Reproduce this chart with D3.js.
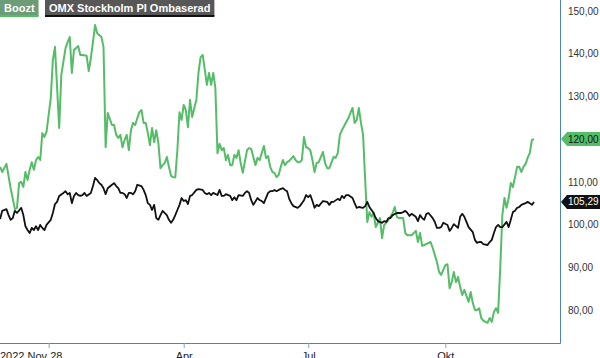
<!DOCTYPE html>
<html><head><meta charset="utf-8">
<script src="https://cdn.jsdelivr.net/npm/d3@7"></script>
<style>body{margin:0;background:#fff;overflow:hidden}</style>
</head><body>
<svg id="c" width="600" height="358"></svg>
<script>
// trading-day index since 2022-11-28 (approx.)
const greenDays = [1,2,4,6,8,9,10,11,12,13,14,15,16,17,18,19,20,21,22,23,25,26,27,29,30,32,33,34,35,36,37,38,39,40,42,43,44,45,46,47,49,50,51,52,54,55,56,57,58,59,60,61,62,63,64,65,66,67,68,69,70,71,72,73,74,75,76,77,78,79,80,81,82,83,84,85,86,87,88,89,90,91,92,94,95,96,97,99,100,101,102,103,104,105,106,107,108,109,110,111,112,113,114,115,116,118,119,120,121,122,123,124,126,127,128,129,130,131,132,133,134,135,136,137,138,140,141,142,143,144,145,146,147,148,149,150,151,152,154,155,156,157,159,160,161,162,163,165,166,168,169,170,171,172,173,174,175,176,177,178,179,180,181,182,183,184,185,187,188,189,190,191,192,193,194,195,196,198,199,200,201,202,204,205,206,208,209,210,212,213,214,215,216,217,218,219,220,221,223,224,225,226,227,228,229,230,231,232,233,234,235,236,237,238,239,240,241,242,243,244,245,246,247,248,249,250,251,252,253,254];
const greenVals = [113.5,112.3,114.2,108.5,103.6,103.9,109.7,110.0,108.8,112.3,110.4,112.8,114.6,112.8,115.1,115.8,115.1,121.4,120.5,121.7,129.6,138.5,141.6,122.6,135.0,141.3,142.7,143.9,135.5,140.9,141.3,141.8,139.7,139.7,139.5,135.9,139.0,142.7,146.7,144.8,143.9,141.6,118.1,126.1,123.3,123.3,121.0,120.3,121.0,118.1,119.8,121.0,117.4,122.1,123.8,123.3,124.9,126.3,126.8,123.8,123.8,121.4,118.6,122.6,119.3,122.1,119.1,113.2,113.9,114.4,115.8,113.5,111.4,111.1,111.0,117.4,126.3,124.5,128.0,126.8,122.8,129.2,125.2,129.2,135.5,139.2,139.7,132.7,135.5,132.7,135.5,132.0,116.7,118.9,117.4,117.9,115.1,116.3,113.9,113.9,116.3,115.6,117.4,114.4,112.1,117.4,117.9,117.7,115.8,113.9,115.6,115.1,118.4,115.6,116.0,113.5,112.3,112.1,111.1,111.6,113.5,115.1,113.9,114.6,114.9,116.0,115.1,114.6,114.6,115.1,120.5,118.1,117.9,117.4,115.1,112.3,114.4,114.6,117.0,114.4,113.2,113.2,115.8,115.6,116.7,121.0,122.1,124.0,124.9,127.3,123.8,124.5,127.3,123.8,121.0,110.4,100.6,102.9,101.8,102.7,99.4,100.4,101.5,96.8,99.9,100.4,101.1,102.7,104.1,101.8,101.5,101.5,101.5,98.0,97.5,97.5,97.5,98.5,95.9,98.0,95.0,95.2,95.7,95.9,94.5,91.2,88.9,88.2,90.5,90.7,85.1,86.5,88.9,86.5,87.7,85.4,83.5,84.7,81.9,84.2,81.6,80.0,80.0,80.4,78.1,77.5,77.2,77.0,78.1,77.2,79.5,80.4,79.3,89.8,102.2,106.2,103.9,106.2,109.7,108.8,111.1,113.5,113.5,112.3,113.5,114.2,115.6,116.7,119.8,120.0];
const blackDays = [1,2,4,5,6,7,8,9,11,12,13,14,15,16,17,18,19,20,21,22,23,25,26,27,28,29,31,32,33,34,35,36,37,38,39,40,41,42,44,45,46,47,48,49,50,51,52,54,55,56,57,58,59,60,61,62,63,64,65,66,68,69,70,71,72,73,74,75,76,77,78,80,81,82,83,84,85,86,87,88,89,90,91,92,94,95,97,98,99,100,101,102,104,105,106,107,108,110,111,112,113,114,116,117,118,119,120,121,123,124,125,126,128,129,130,131,132,133,135,136,137,138,139,140,142,143,144,145,146,147,148,149,150,151,152,154,156,157,158,159,161,162,163,164,165,166,168,169,170,171,173,174,175,176,177,178,179,180,182,183,184,185,186,187,189,190,191,192,193,194,195,196,198,199,200,201,202,203,204,206,207,208,209,210,211,213,214,215,216,218,219,220,221,222,223,225,226,227,228,229,230,232,233,234,235,236,237,238,239,241,242,243,244,245,246,247,248,250,251,252,253,254];
const blackVals = [101.3,103.2,103.6,102.2,101.1,101.5,103.2,102.7,103.9,102.2,99.6,98.7,98.0,99.2,98.7,99.6,98.7,99.9,99.2,98.7,99.9,101.1,102.7,104.8,105.3,106.7,107.4,107.8,107.1,107.4,105.0,106.7,107.4,106.9,106.7,106.9,107.4,106.7,107.4,109.0,110.9,110.4,109.7,109.3,108.5,107.1,108.5,109.3,109.7,109.0,108.5,107.4,107.4,107.1,106.2,107.4,107.4,107.1,107.8,109.3,109.0,108.1,106.9,105.0,104.6,103.4,104.6,101.5,101.1,102.2,103.2,102.2,101.1,100.4,101.1,102.2,103.4,104.6,106.2,105.5,105.7,104.8,106.7,106.9,108.1,108.3,108.1,107.4,107.1,107.4,106.9,107.4,106.9,108.1,106.7,106.7,107.1,106.7,105.7,106.4,105.7,106.9,106.7,107.4,107.8,107.4,105.7,104.6,106.2,105.7,105.5,105.0,107.4,107.8,107.8,108.1,107.8,108.1,108.5,108.1,107.8,106.0,105.0,104.3,103.9,104.3,105.0,105.7,106.9,106.4,106.9,105.5,103.9,104.6,104.3,105.5,105.3,104.6,105.3,105.3,106.0,105.7,106.7,106.2,106.9,106.9,106.2,105.0,103.9,104.1,103.9,104.3,105.3,104.1,103.4,102.7,101.5,100.8,100.4,100.8,100.6,101.5,101.5,102.2,102.7,102.7,102.7,102.9,103.2,102.7,102.0,102.5,101.8,100.8,102.2,101.5,101.1,102.5,102.7,101.5,100.6,99.2,99.2,99.4,100.4,99.9,98.5,99.2,100.1,99.2,101.8,102.5,101.8,100.6,99.4,98.2,96.4,95.7,95.9,95.9,95.4,95.2,95.9,96.4,98.0,99.4,99.9,99.4,99.4,100.6,99.4,101.1,102.9,103.2,103.9,104.1,104.6,105.0,105.3,105.0,104.6,105.29];

const seriesNames = ["Boozt", "OMX Stockholm PI Ombaserad"];
const lastValues = [120.00, 105.29];
const yTicks = [80, 90, 100, 110, 120, 130, 140, 150];
const xTickDays = [24, 88, 147, 212];
const xTickLabels = ["", "Apr", "Jul", "Okt"];
const startLabel = "2022 Nov 28";

const W = 600, H = 358;
const plotR = 560, plotB = 343;
const svg = d3.select("#c");
const font = "'Liberation Sans', Arial, sans-serif";
const axisColor = "#4a87ad";
const green = "#55bd67";

const x = d3.scaleLinear().domain([0, 254]).range([-2, 534]);
const y = d3.scaleLinear().domain([72.25, 150]).range([plotB, 11]);
const loc = d3.formatLocale({decimal: ",", thousands: " ", grouping: [3], currency: ["", ""]});
const fmt = loc.format(".2f");

svg.append("defs").append("clipPath").attr("id", "clip")
  .append("rect").attr("x", 0).attr("y", 0).attr("width", plotR).attr("height", plotB);

const g = svg.append("g").attr("clip-path", "url(#clip)");
const line = d3.line().x(d => x(d[0])).y(d => y(d[1]));

g.append("path").datum(d3.zip(greenDays, greenVals))
  .attr("d", line).attr("fill", "none").attr("stroke", green)
  .attr("stroke-width", 2).attr("stroke-linejoin", "round");
g.append("path").datum(d3.zip(blackDays, blackVals))
  .attr("d", line).attr("fill", "none").attr("stroke", "#111")
  .attr("stroke-width", 1.8).attr("stroke-linejoin", "round");

// axes lines
svg.append("line").attr("x1", plotR + 0.5).attr("x2", plotR + 0.5).attr("y1", 0).attr("y2", plotB + 0.5)
  .attr("stroke", axisColor).attr("stroke-width", 1);
svg.append("line").attr("x1", 0).attr("x2", plotR + 0.5).attr("y1", plotB + 0.5).attr("y2", plotB + 0.5)
  .attr("stroke", axisColor).attr("stroke-width", 1);

// right axis labels
const yAxis = d3.axisRight(y).tickValues(yTicks).tickSize(0).tickPadding(8).tickFormat(fmt);
const ya = svg.append("g").attr("transform", `translate(${plotR},0)`).call(yAxis);
ya.select(".domain").remove();
ya.selectAll("text").attr("font-family", font).attr("font-size", 10).attr("fill", "#333");

// bottom axis
const xAxis = d3.axisBottom(x).tickValues(xTickDays).tickSize(5).tickPadding(4)
  .tickFormat((d, i) => xTickLabels[i]);
const xa = svg.append("g").attr("transform", `translate(0,${plotB})`).call(xAxis);
xa.select(".domain").remove();
xa.selectAll("line").attr("stroke", "#7aaac8");
xa.selectAll("text").attr("font-family", font).attr("font-size", 11).attr("fill", "#222");
svg.append("text").attr("x", 0).attr("y", plotB + 17).text(startLabel)
  .attr("font-family", font).attr("font-size", 11).attr("fill", "#222");

// legend
const legendCfg = [
  {name: seriesNames[0], x: 0, bg: "#6c9d76", line: green},
  {name: seriesNames[1], x: 45, bg: "#575757", line: "#111"}
];
legendCfg.forEach(c => {
  const lg = svg.append("g");
  const t = lg.append("text").attr("x", c.x + 4).attr("y", 12).text(c.name)
    .attr("font-family", font).attr("font-size", 11).attr("font-weight", "bold").attr("fill", "#fff");
  const w = t.node().getComputedTextLength() + 8;
  lg.insert("rect", "text").attr("x", c.x).attr("y", 0).attr("width", w).attr("height", 16).attr("fill", c.bg);
  lg.insert("rect", "text").attr("x", c.x).attr("y", 15).attr("width", w).attr("height", 2).attr("fill", c.line);
});

// last value tags
const tags = [
  {v: lastValues[0], fill: green, color: "#111"},
  {v: lastValues[1], fill: "#111", color: "#fff"}
];
tags.forEach(t => {
  const cy = y(t.v);
  const x0 = plotR + 1, h = 14;
  svg.append("path")
    .attr("d", `M${x0},${cy} L${x0 + 6},${cy - h / 2} L${W},${cy - h / 2} L${W},${cy + h / 2} L${x0 + 6},${cy + h / 2} Z`)
    .attr("fill", t.fill);
  svg.append("text").attr("x", plotR + 8).attr("y", cy + 3.5).text(fmt(t.v))
    .attr("font-family", font).attr("font-size", 10).attr("fill", t.color);
});
</script>
</body></html>
